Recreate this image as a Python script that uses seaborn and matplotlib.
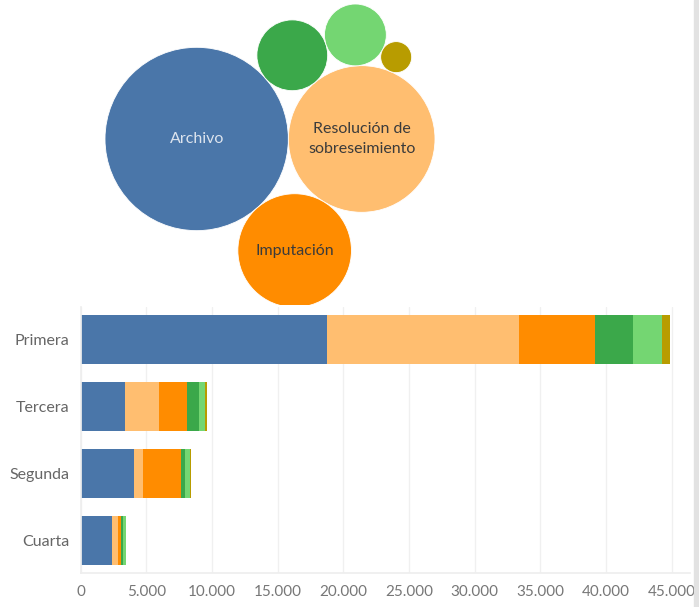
import numpy as np
import pandas as pd
import matplotlib
matplotlib.use("Agg")
import matplotlib.pyplot as plt
from matplotlib.patches import Circle
from matplotlib.ticker import FuncFormatter
import seaborn as sns

# etapas (filas de la barra) y salidas (segmentos / burbujas)
etapas = ["Primera", "Tercera", "Segunda", "Cuarta"]
salidas = ["Archivo", "Resolución de sobreseimiento", "Imputación",
           "Salida 4", "Salida 5", "Salida 6"]
colores = ["#4a76a9", "#ffbe70", "#ff8c00", "#3ba84a", "#74d672", "#b89c00"]

# valores, por etapa, en el orden de "salidas"
primera = [18760, 14590, 5800, 2870, 2230, 580]
tercera = [3390, 2580, 2110, 910, 510, 90]
segunda = [4100, 680, 2890, 310, 350, 90]
cuarta = [2400, 480, 200, 180, 170, 60]

# etiquetas dentro de las burbujas
etiquetas = ["Archivo", "Resolución de\nsobreseimiento", "Imputación", "", "", ""]
color_texto = ["#dde4ee", "#3b3b3b", "#3b3b3b", "", "", ""]

# eje x
xticks = [0, 5000, 10000, 15000, 20000, 25000, 30000, 35000, 40000, 45000]

df = pd.DataFrame([primera, tercera, segunda, cuarta], index=etapas, columns=salidas)
totales = df.sum(axis=0).values

sns.set_theme(style="white")
plt.rcParams['font.family'] = ['Lato', 'DejaVu Sans']

fig = plt.figure(figsize=(6.99, 6.07), dpi=100)

# ---- burbujas empaquetadas ----
def tangente(p, q, r):
    # centro de un círculo de radio r tangente a p y q (a la izquierda de p->q)
    px, py, pr = p
    qx, qy, qr = q
    dx, dy = qx - px, qy - py
    d = np.hypot(dx, dy)
    dp, dq = pr + r, qr + r
    a = (dp ** 2 - dq ** 2 + d ** 2) / (2 * d)
    h = np.sqrt(max(dp ** 2 - a ** 2, 0))
    ux, uy = dx / d, dy / d
    return px + a * ux - h * uy, py + a * uy + h * ux

radios = np.sqrt(totales)
vecinos = [None, None, (0, 1), (1, 0), (1, 3), (1, 4)]
circ = [(0.0, 0.0, radios[0]), (radios[0] + radios[1], 0.0, radios[1])]
for i in range(2, len(radios)):
    p, q = vecinos[i]
    x, y = tangente(circ[p], circ[q], radios[i])
    circ.append((x, y, radios[i]))

xmin = min(c[0] - c[2] for c in circ)
xmax = max(c[0] + c[2] for c in circ)
ymin = min(c[1] - c[2] for c in circ)

ax_b = fig.add_axes([0, 1 - 305 / 607, 1, 305 / 607])
esc = 330 / (xmax - xmin)  # pixeles por unidad
ax_b.set_xlim(xmin - 105 / esc, xmin + (699 - 105) / esc)
top = ymin - 4 / esc
ax_b.set_ylim(top + 305 / esc, top)
for (x, y, r), col, lab, tc in zip(circ, colores, etiquetas, color_texto):
    ax_b.add_patch(Circle((x, y), r, facecolor=col, edgecolor="white", lw=0.6))
    if lab:
        ax_b.text(x, y, lab, ha="center", va="center", fontsize=11.5,
                  color=tc, linespacing=1.6)
ax_b.axis("off")

# ---- barras apiladas ----
ax = fig.add_axes([80.5 / 699, 1 - 573 / 607, (690 - 80.5) / 699, (573 - 307) / 607])
acum = df.cumsum(axis=1)
for j in range(len(salidas) - 1, -1, -1):
    sns.barplot(x=acum.iloc[:, j].values, y=etapas, orient="h", color=colores[j],
                width=0.73, linewidth=0, saturation=1, ax=ax)

ax.set_xlim(0, (690 - 80.5) * 76.1)
ax.set_ylim(3.48, -0.48)
ax.set_xticks(xticks)
ax.xaxis.set_major_formatter(FuncFormatter(lambda v, _: f"{int(v):,}".replace(",", ".")))
ax.grid(axis="x", color="#f0f0f0", lw=1)
ax.set_axisbelow(True)
for s in ["top", "right"]:
    ax.spines[s].set_visible(False)
ax.spines["left"].set_color("#eeeeee")
ax.spines["bottom"].set_color("#eeeeee")
ax.tick_params(axis="x", colors="#777777", labelsize=11, length=0, pad=9)
ax.tick_params(axis="y", colors="#666666", labelsize=11.5, length=0, pad=8)
ax.set_xlabel("")
ax.set_ylabel("")

# barra gris del borde derecho
fig.patches.append(plt.Rectangle((694 / 699, 0), 5 / 699, 1, transform=fig.transFigure,
                                 color="#e2e2e2", zorder=0))

fig.savefig("out.png", dpi=100)
